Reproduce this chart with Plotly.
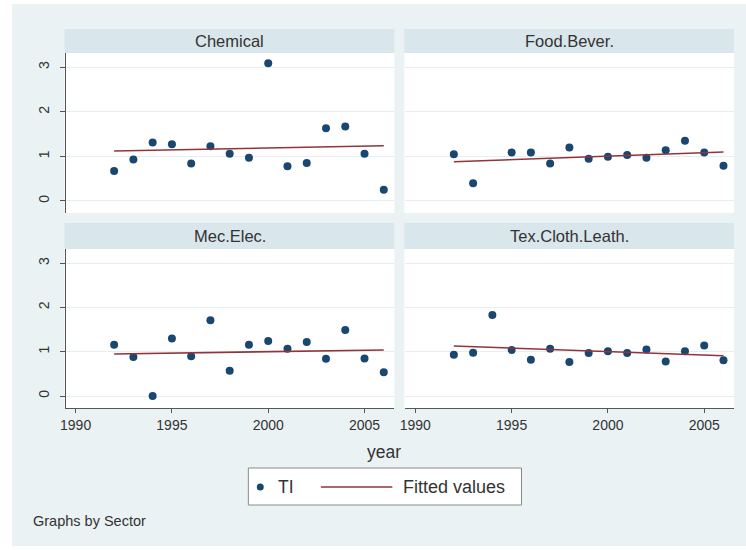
import plotly.graph_objects as go

# ---------------- data ----------------
sectors = ["Chemical", "Food.Bever.", "Mec.Elec.", "Tex.Cloth.Leath."]

chem_years = [1992, 1993, 1994, 1995, 1996, 1997, 1998, 1999, 2000, 2001, 2002, 2003, 2004, 2005, 2006]
chem_ti = [0.67, 0.93, 1.31, 1.27, 0.84, 1.23, 1.06, 0.97, 3.09, 0.78, 0.85, 1.63, 1.67, 1.06, 0.25]

food_years = [1992, 1993, 1995, 1996, 1997, 1998, 1999, 2000, 2001, 2002, 2003, 2004, 2005, 2006]
food_ti = [1.05, 0.40, 1.09, 1.09, 0.84, 1.20, 0.95, 0.99, 1.03, 0.97, 1.14, 1.35, 1.09, 0.79]

mec_years = [1992, 1993, 1994, 1995, 1996, 1997, 1998, 1999, 2000, 2001, 2002, 2003, 2004, 2005, 2006]
mec_ti = [1.16, 0.88, 0.00, 1.30, 0.90, 1.71, 0.57, 1.16, 1.24, 1.07, 1.22, 0.84, 1.49, 0.85, 0.54]

tex_years = [1992, 1993, 1994, 1995, 1996, 1997, 1998, 1999, 2000, 2001, 2002, 2003, 2004, 2005, 2006]
tex_ti = [0.93, 0.98, 1.83, 1.04, 0.82, 1.07, 0.77, 0.97, 1.01, 0.97, 1.05, 0.78, 1.01, 1.14, 0.81]

fit_years = [1992, 2006]
chem_fit = [1.12, 1.24]
food_fit = [0.88, 1.10]
mec_fit = [0.95, 1.04]
tex_fit = [1.13, 0.91]

x_ticks = [1990, 1995, 2000, 2005]
y_ticks = [0, 1, 2, 3]

# ---------------- styling ----------------
W, H = 746, 550
BG = "#EAF2F3"
STRIP = "#D9E6EB"
GRID = "#E6EEF0"
NAVY = "#1a476f"
MAROON = "#90353b"
AXIS = "#555555"
TXT = "#333333"
FONT = "Liberation Sans, Arial, sans-serif"


def px(x):
    return x / W


def py(y):
    return 1 - y / H


# panel pixel geometry
cols = [(61, 392), (403, 734)]
rows = [(53, 213), (249, 408)]          # plot areas
strips = [(29, 53), (223, 249)]         # header strips

panels = [
    (0, 0, chem_years, chem_ti, chem_fit),
    (0, 1, food_years, food_ti, food_fit),
    (1, 0, mec_years, mec_ti, mec_fit),
    (1, 1, tex_years, tex_ti, tex_fit),
]

fig = go.Figure()
shapes = []
annotations = []

# outer light background
shapes.append(dict(type="rect", xref="paper", yref="paper", x0=px(7), x1=px(746),
                   y0=py(546), y1=py(4), fillcolor=BG, line=dict(width=0), layer="below"))

for i, (r, c, xs, ys, fit) in enumerate(panels):
    k = i + 1
    xa = "x" if k == 1 else f"x{k}"
    ya = "y" if k == 1 else f"y{k}"
    x0, x1 = cols[c]
    y0, y1 = rows[r]
    s0, s1 = strips[r]
    # white plot bg
    shapes.append(dict(type="rect", xref="paper", yref="paper", x0=px(x0 - 1), x1=px(x1),
                       y0=py(y1), y1=py(y0), fillcolor="white", line=dict(width=0), layer="below"))
    # header strip
    shapes.append(dict(type="rect", xref="paper", yref="paper", x0=px(x0 - 1), x1=px(x1),
                       y0=py(s1), y1=py(s0), fillcolor=STRIP, line=dict(width=0), layer="below"))
    annotations.append(dict(text=sectors[i], xref="paper", yref="paper",
                            x=px((x0 + x1) / 2), y=py((s0 + s1) / 2), showarrow=False,
                            xanchor="center", yanchor="middle",
                            font=dict(family=FONT, size=16.5, color=TXT)))

    fig.add_trace(go.Scatter(x=xs, y=ys, mode="markers", name="TI",
                             marker=dict(color=NAVY, size=8, line=dict(width=0)),
                             xaxis=xa, yaxis=ya, showlegend=False, cliponaxis=False))
    fig.add_trace(go.Scatter(x=fit_years, y=fit, mode="lines", name="Fitted values",
                             line=dict(color=MAROON, width=1.6),
                             xaxis=xa, yaxis=ya, showlegend=False))

    xkey = "xaxis" if k == 1 else f"xaxis{k}"
    ykey = "yaxis" if k == 1 else f"yaxis{k}"
    bottom = r == 1
    left = c == 0
    fig.layout[xkey] = dict(
        domain=[px(x0), px(x1)], anchor=ya, range=[1989.48, 2006.55],
        tickvals=x_ticks, showgrid=False, zeroline=False,
        showline=bottom, linecolor=AXIS, linewidth=1,
        ticks="outside" if bottom else "", ticklen=4, tickcolor=AXIS, tickwidth=1,
        showticklabels=bottom, tickfont=dict(family=FONT, size=14, color=TXT),
        ticklabelstandoff=0,
    )
    fig.layout[ykey] = dict(
        domain=[py(y1), py(y0)], anchor=xa, range=[-0.27, 3.32],
        tickvals=y_ticks, showgrid=True, gridcolor=GRID, gridwidth=1, zeroline=False,
        showline=left, linecolor=AXIS, linewidth=1,
        ticks="outside" if left else "", ticklen=5, tickcolor=AXIS, tickwidth=1,
        showticklabels=left, tickangle=-90, tickfont=dict(family=FONT, size=14, color=TXT),
        ticklabelstandoff=5,
    )

# x axis title
annotations.append(dict(text="year", xref="paper", yref="paper", x=px(382), y=py(452),
                        showarrow=False, xanchor="center", yanchor="middle",
                        font=dict(family=FONT, size=17.5, color=TXT)))

# legend (drawn manually to match the Stata key)
shapes.append(dict(type="rect", xref="paper", yref="paper", x0=px(245), x1=px(520),
                   y0=py(505), y1=py(468), fillcolor="white",
                   line=dict(color="#8a8a8a", width=1), layer="above"))
shapes.append(dict(type="circle", xref="paper", yref="paper", x0=px(253.5), x1=px(260.5),
                   y0=py(490.5), y1=py(483.5), fillcolor=NAVY, line=dict(width=0), layer="above"))
shapes.append(dict(type="line", xref="paper", yref="paper", x0=px(318), x1=px(390),
                   y0=py(487), y1=py(487), line=dict(color=MAROON, width=1.6), layer="above"))
annotations.append(dict(text="TI", xref="paper", yref="paper", x=px(273), y=py(487),
                        showarrow=False, xanchor="left", yanchor="middle",
                        font=dict(family=FONT, size=17.5, color=TXT)))
annotations.append(dict(text="Fitted values", xref="paper", yref="paper", x=px(399), y=py(487),
                        showarrow=False, xanchor="left", yanchor="middle",
                        font=dict(family=FONT, size=18, color=TXT)))

# note
annotations.append(dict(text="Graphs by Sector", xref="paper", yref="paper", x=px(26), y=py(521),
                        showarrow=False, xanchor="left", yanchor="middle",
                        font=dict(family=FONT, size=14.5, color=TXT)))

fig.update_layout(
    width=W, height=H, margin=dict(l=0, r=0, t=0, b=0),
    paper_bgcolor="white", plot_bgcolor="rgba(0,0,0,0)",
    shapes=shapes, annotations=annotations, showlegend=False,
)

fig.write_html("out.html")
